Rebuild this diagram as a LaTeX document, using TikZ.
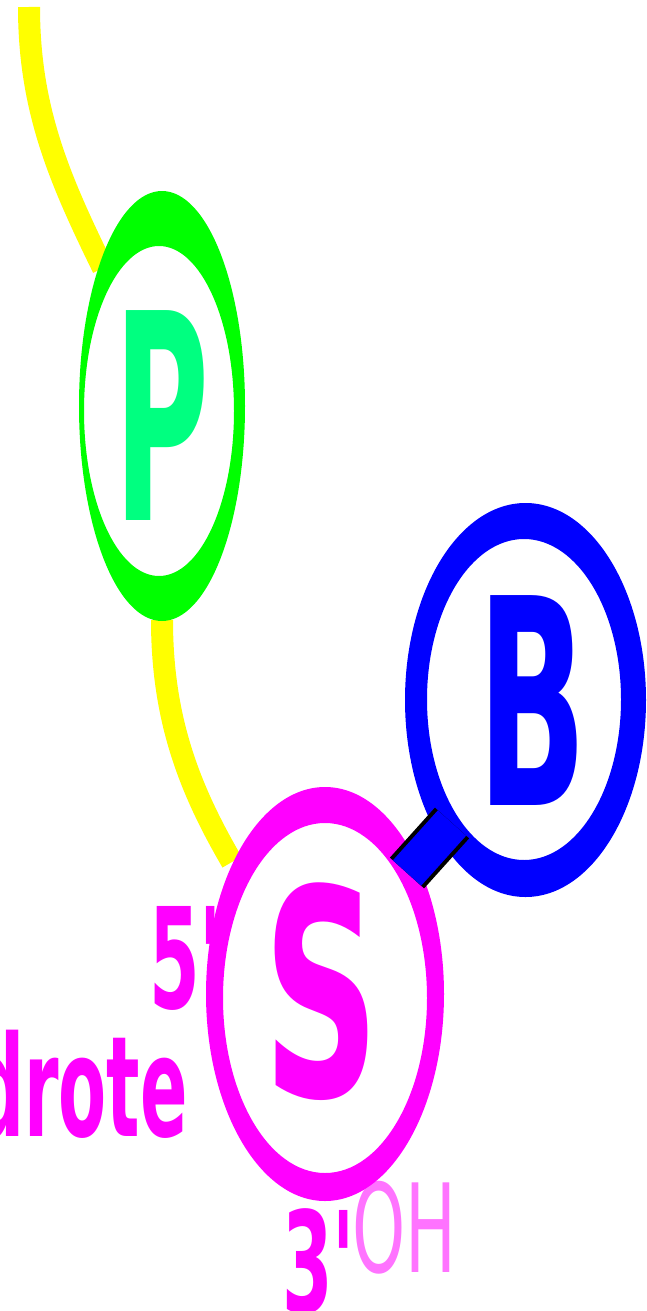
\documentclass[tikz,border=0pt]{standalone}
\usepackage{fontspec}
\setmainfont{DejaVu Sans}
\newfontfamily\labelfont{DejaVu Sans}
\definecolor{strandyellow}{HTML}{FFFF00}
\definecolor{ringgreen}{HTML}{00FF00}
\definecolor{lettergreen}{HTML}{00FF80}
\definecolor{ringblue}{HTML}{0000FF}
\definecolor{ringmagenta}{HTML}{FF00FF}
\tikzset{
  strand/.style={draw=strandyellow, line width=22pt, line cap=butt},
  ring/.style={fill=#1, even odd rule},
  bigletter/.style={inner sep=0pt, anchor=base, font=\fontsize{288}{288}\selectfont\bfseries},
  endlabel/.style={inner sep=0pt, text=ringmagenta, font=\labelfont\fontsize{140}{140}\selectfont\bfseries},
}
\begin{document}
\begin{tikzpicture}[x=1pt,y=-1pt]
\clip (0,0) rectangle (646,1311);
% backbone strand
\coordinate (strand-in) at (29,7);
\coordinate (p-top) at (103,268);
\coordinate (p-bottom) at (162,620);
\coordinate (s-top) at (232,862);
\draw[strand] (strand-in) .. controls (29,110) and (60,180) .. (p-top);
\draw[strand] (p-bottom) .. controls (162,720) and (190,790) .. (s-top);
% phosphate
\fill[ring=ringgreen] (162,406) ellipse [x radius=83pt, y radius=215pt]
                      (159,411) ellipse [x radius=75pt, y radius=165pt];
\node[bigletter, text=lettergreen, xscale=0.45] (p-label) at (162,520) {P};
% sugar
\fill[ring=ringmagenta] (325,994) ellipse [x radius=119pt, y radius=207pt]
                        (325,998) ellipse [x radius=102pt, y radius=175pt];
\node[bigletter, text=ringmagenta, xscale=0.56] (s-label) at (322,1096) {S};
% base
\fill[ring=ringblue] (525.5,700) ellipse [x radius=120.5pt, y radius=197pt]
                     (524,699.5) ellipse [x radius=97pt, y radius=160.5pt];
\node[bigletter, text=ringblue, xscale=0.5] (b-label) at (532,805) {B};
% glycosidic bond
\coordinate (bond-b) at (452,823);
\coordinate (bond-s) at (407,873);
\draw[black, line width=46pt] (bond-b) -- (bond-s);
\draw[ringblue, line width=38pt] (bond-b) -- (bond-s);
% end labels
\node[endlabel, anchor=base west, xscale=0.52] (five-end) at (149,1008) {5'};
\node[endlabel, anchor=base east, xscale=0.5] (drote) at (188,1136) {drote};
\node[endlabel, anchor=base west, xscale=0.52] (three-end) at (282,1312) {3'};
\node[inner sep=0pt, anchor=base west, text=ringmagenta, opacity=0.55,
      font=\labelfont\fontsize{123}{123}\selectfont, xscale=0.55] (oh) at (352,1272) {OH};
\end{tikzpicture}
\end{document}
